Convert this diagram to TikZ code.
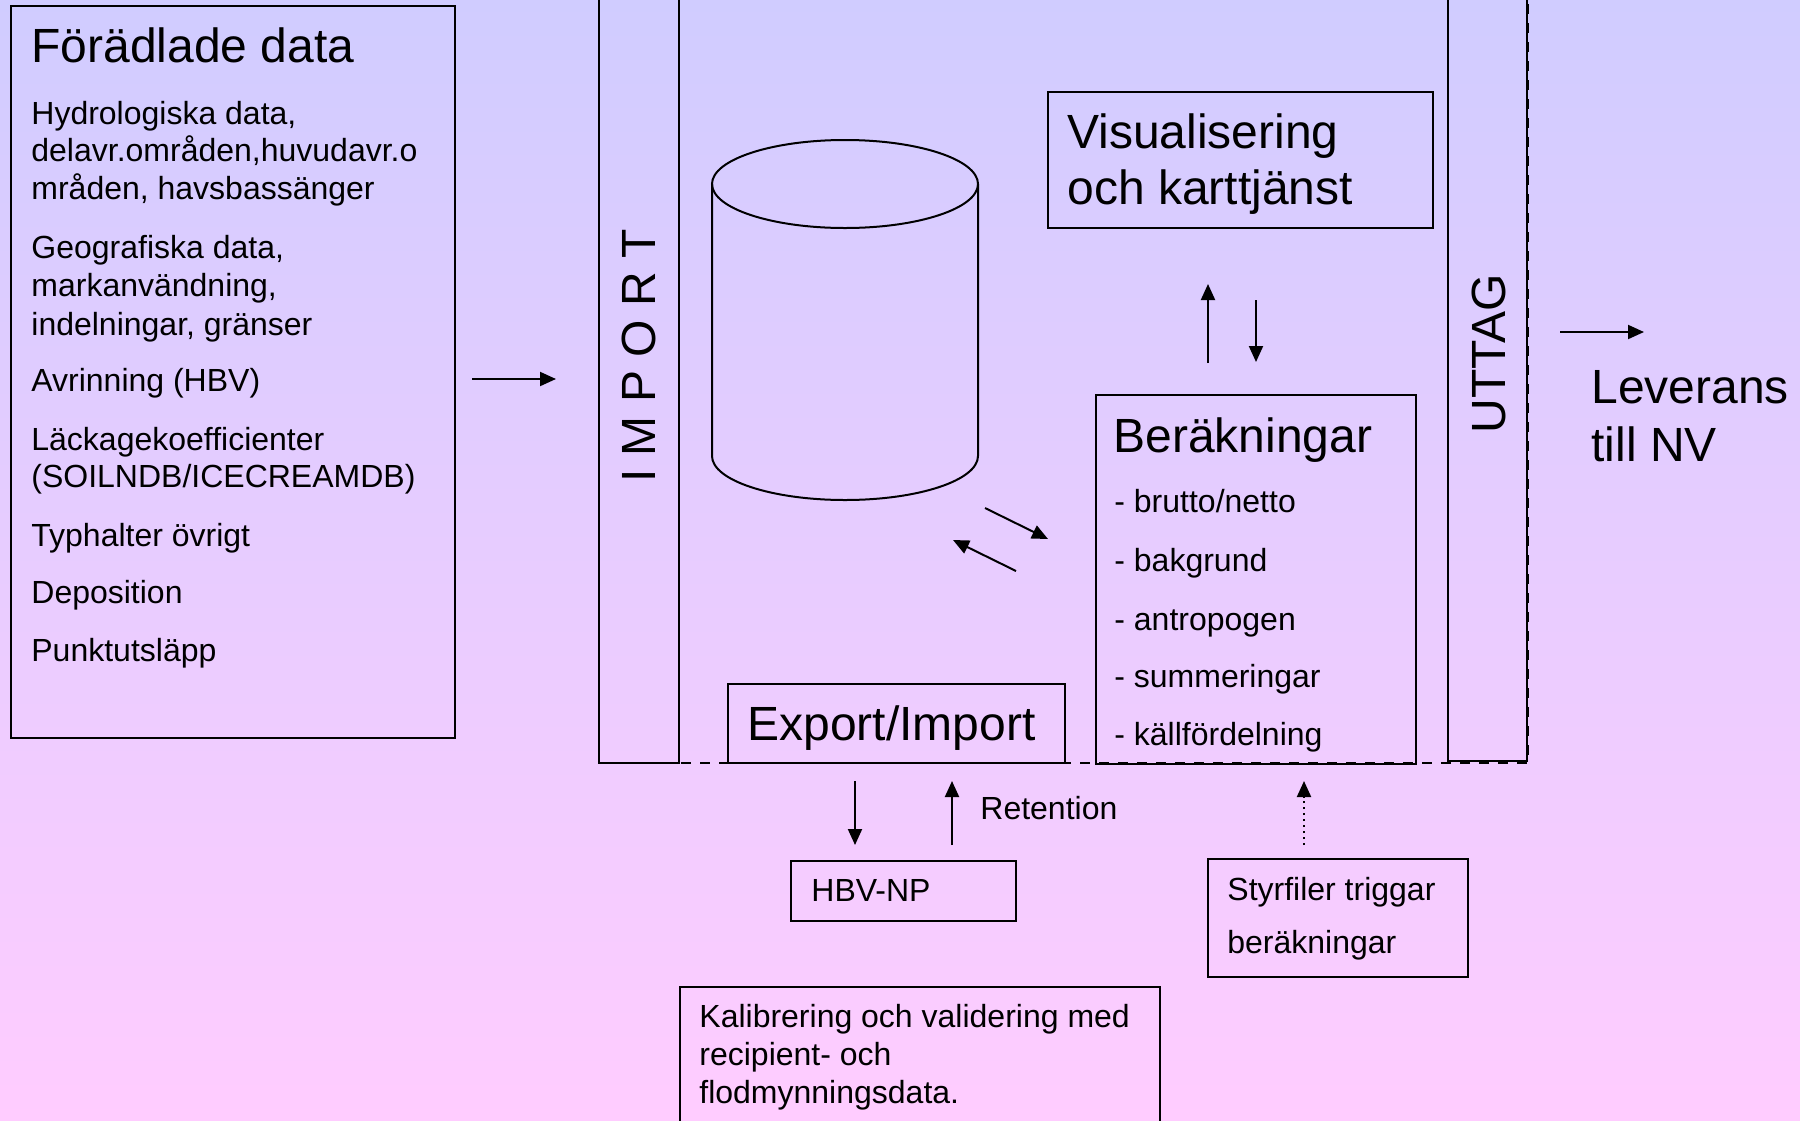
\documentclass[tikz,border=0pt]{standalone}
\usepackage{fontspec}
\setmainfont{Liberation Sans}
\usetikzlibrary{arrows.meta,shapes}
\definecolor{bgtop}{RGB}{208,204,255}
\definecolor{bgbot}{RGB}{255,204,255}
\tikzstyle{box}=[draw, line width=1.2pt, inner sep=0pt]
\tikzstyle{flow}=[-{Triangle[length=8pt,width=7pt]}, line width=1pt]
\tikzstyle{lbl}=[inner sep=0pt, anchor=base west, font=\fontsize{16}{19}\selectfont]
\tikzstyle{big}=[inner sep=0pt, anchor=base west, font=\fontsize{24}{28}\selectfont]

\begin{document}
\begin{tikzpicture}[x=0.5pt, y=-0.5pt]
\clip (0,0) rectangle (1800,1120);
\shade[top color=bgtop, bottom color=bgbot] (0,0) rectangle (1800,1120);
% dashed frame round the store
\draw[line width=1.3pt, dash pattern=on 5pt off 4.5pt] (599,-10) -- (599,763) -- (1528,763) -- (1528,-10);
% boxes
\node[box, minimum width=222pt, minimum height=366pt] (FD) at (233,372) {};
\node[box, minimum width=40pt, minimum height=386.5pt] (Imp) at (639,376.5) {};
\node[box, minimum width=39.5pt, minimum height=385.5pt] (Utt) at (1487.5,375.5) {};
\node[box, minimum width=192.5pt, minimum height=68pt] (Vis) at (1240.5,160) {};
\node[box, minimum width=160pt, minimum height=184.5pt] (Ber) at (1256,579.5) {};
\node[box, minimum width=168.5pt, minimum height=39.5pt] (Exp) at (896.5,723.5) {};
\node[box, minimum width=112.5pt, minimum height=30pt] (HBV) at (903.5,891) {};
\node[box, minimum width=130pt, minimum height=59pt] (Styr) at (1338,918) {};
\node[box, minimum width=240pt, minimum height=76.5pt] (Kal) at (920,1063.5) {};
% database
\draw[line width=1pt] (845,184) ellipse [x radius=133, y radius=44];
\draw[line width=1pt] (712,184) -- (712,456) arc[start angle=180, end angle=0, x radius=133, y radius=44] -- (978,184);
% texts
\node[big] (FDt) at (31,62) {Förädlade data};
\node[lbl] (FD1) at (31,124) {Hydrologiska data,};
\node[lbl] (FD2) at (31,161) {delavr.områden,huvudavr.o};
\node[lbl] (FD3) at (31,199) {mråden, havsbassänger};
\node[lbl] (FD4) at (31,258) {Geografiska data,};
\node[lbl] (FD5) at (31,296) {markanvändning,};
\node[lbl] (FD6) at (31,335) {indelningar, gränser};
\node[lbl] (FD7) at (31,391) {Avrinning (HBV)};
\node[lbl] (FD8) at (31,450) {Läckagekoefficienter};
\node[lbl] (FD9) at (31,487) {(SOILNDB/ICECREAMDB)};
\node[lbl] (FD10) at (31,546) {Typhalter övrigt};
\node[lbl] (FD11) at (31,603) {Deposition};
\node[lbl] (FD12) at (31,661) {Punktutsläpp};
\node[inner sep=0pt, rotate=90, font=\fontsize{24}{28}\selectfont] (Impt) at (639,356) {I M P O R T};
\node[inner sep=0pt, rotate=90, font=\fontsize{24}{28}\selectfont] (Uttt) at (1489,354) {UTTAG};
\node[big] (Vis1) at (1067,148) {Visualisering};
\node[big] (Vis2) at (1067,204) {och karttjänst};
\node[big] (Bert) at (1113,452) {Beräkningar};
\node[lbl] (Ber1) at (1114,512) {- brutto/netto};
\node[lbl] (Ber2) at (1114,571) {- bakgrund};
\node[lbl] (Ber3) at (1114,630) {- antropogen};
\node[lbl] (Ber4) at (1114,687) {- summeringar};
\node[lbl] (Ber5) at (1114,745) {- källfördelning};
\node[big] (Expt) at (747,740) {Export/Import};
\node[big] (Lev1) at (1591,403) {Leverans};
\node[big] (Lev2) at (1591,461) {till NV};
\node[lbl] (Ret) at (980,819) {Retention};
\node[lbl] (HBVt) at (811,901) {HBV-NP};
\node[lbl] (Styr1) at (1227,900) {Styrfiler triggar};
\node[lbl] (Styr2) at (1227,953) {beräkningar};
\node[lbl] (Kal1) at (699,1027) {Kalibrering och validering med};
\node[lbl] (Kal2) at (699,1065) {recipient- och};
\node[lbl] (Kal3) at (699,1103) {flodmynningsdata.};
% arrow ends
\coordinate (in1) at (472,379); \coordinate (in2) at (556,379);
\coordinate (out1) at (1560,332); \coordinate (out2) at (1644,332);
\coordinate (vu1) at (1208,363); \coordinate (vu2) at (1208,284);
\coordinate (vd1) at (1256,300); \coordinate (vd2) at (1256,362);
\coordinate (dr1) at (985,508); \coordinate (dr2) at (1048,539);
\coordinate (dl1) at (1016,571); \coordinate (dl2) at (953,540);
\coordinate (hd1) at (855,781); \coordinate (hd2) at (855,845);
\coordinate (hu1) at (952,845); \coordinate (hu2) at (952,781);
\coordinate (su1) at (1304,845); \coordinate (su2) at (1304,781);
\draw[flow] (in1) -- (in2);
\draw[flow] (out1) -- (out2);
\draw[flow] (vu1) -- (vu2);\draw[flow] (vd1) -- (vd2);
\draw[flow] (dr1) -- (dr2);\draw[flow] (dl1) -- (dl2);
\draw[flow] (hd1) -- (hd2);\draw[flow] (hu1) -- (hu2);
\draw[flow, dotted] (su1) -- (su2);
\end{tikzpicture}
\end{document}
